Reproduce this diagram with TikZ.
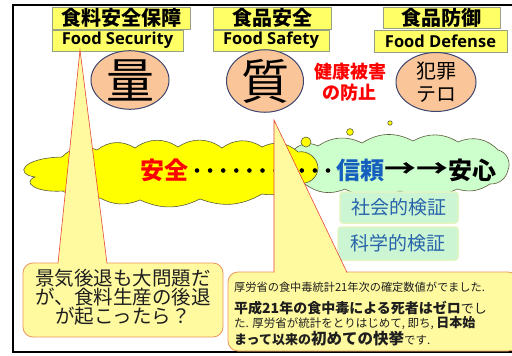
\documentclass[tikz,border=0pt]{standalone}
\usepackage{fontspec}
\setmainfont{Open Sans}
\newfontfamily\jp{Noto Sans CJK JP}
\usetikzlibrary{shapes.geometric}
\definecolor{hdrfill}{RGB}{255,255,102}
\definecolor{hdrline}{RGB}{150,160,130}
\definecolor{ovalfill}{RGB}{250,197,152}
\definecolor{ovalline}{RGB}{60,70,110}
\definecolor{cloudy}{RGB}{255,255,0}
\definecolor{cloudg}{RGB}{204,255,204}
\definecolor{cloudline}{RGB}{90,90,60}
\definecolor{gboxfill}{RGB}{204,245,212}
\definecolor{gboxline}{RGB}{225,245,195}
\definecolor{gtext}{RGB}{40,100,170}
\definecolor{shinblue}{RGB}{20,95,190}
\definecolor{callfill}{RGB}{255,250,160}
\definecolor{callline}{RGB}{235,150,90}
\definecolor{pedge}{RGB}{230,70,50}
\definecolor{dtext}{RGB}{30,30,30}
\begin{document}
\begin{tikzpicture}[x=1pt,y=-1pt,
  hdrbox/.style={draw=hdrline, fill=hdrfill, line width=0.8pt, inner sep=0pt},
  jphdr/.style={font=\jp\bfseries\fontsize{20}{22}\selectfont},
  enhdr/.style={font=\bfseries\fontsize{16.5}{18}\selectfont},
  oval/.style={ellipse, draw=ovalline, fill=ovalfill, line width=1pt, inner sep=0pt},
  redtxt/.style={font=\jp\bfseries\fontsize{18}{20}\selectfont, text=red},
  bigtxt/.style={font=\jp\bfseries\fontsize{24}{26}\selectfont},
  ycloud/.style={fill=cloudy, draw=cloudline, line width=0.6pt},
  gcloud/.style={fill=cloudg, draw=cloudline, line width=0.6pt},
  bubble/.style={fill=cloudy, draw=cloudline, line width=0.6pt},
  gbox/.style={fill=gboxfill, draw=gboxline, line width=1.5pt, rounded corners=3pt, inner sep=0pt, text=gtext, font=\jp\fontsize{19}{21}\selectfont},
  callbox/.style={fill=callfill, draw=callline, line width=0.8pt, rounded corners=10pt, inner sep=0pt},
  ptr/.style={draw=pedge, line width=0.6pt},
  rtxt/.style={anchor=west, inner sep=0pt, text=dtext}
]
\useasboundingbox (0,0) rectangle (512,356);
\fill[white] (0,0) rectangle (512,356);
% frame
\draw[line width=2.5pt] (512,5) -- (13,5) -- (13,352) -- (512,352);

% headers
\node[hdrbox, jphdr, minimum width=138, minimum height=22] (h1) at (121,18) {食料安全保障};
\node[hdrbox, enhdr, minimum width=131, minimum height=21] (e1) at (117.5,40.5) {Food Security};
\node[hdrbox, jphdr, minimum width=118, minimum height=22] (h2) at (272,18) {食品安全};
\node[hdrbox, enhdr, minimum width=116, minimum height=21] (e2) at (271,40.5) {Food Safety};
\node[hdrbox, jphdr, minimum width=117, minimum height=21] (h3) at (441.5,17.5) {食品防御};
\node[hdrbox, enhdr, minimum width=133, minimum height=22] (e3) at (440.5,41) {Food Defense};

% ovals
\node[oval, minimum width=78, minimum height=56, font=\jp\fontsize{48}{50}\selectfont] (q1) at (130,80) {量};
\node[oval, minimum width=77, minimum height=58, font=\jp\fontsize{48}{50}\selectfont] (q2) at (265,81) {質};
\node[oval, minimum width=80, minimum height=59] (q3) at (436,82) {};
\node[font=\jp\fontsize{20}{22}\selectfont] (q3a) at (436,71) {犯罪};
\node[font=\jp\fontsize{20}{22}\selectfont] (q3b) at (436,95) {テロ};
\node[redtxt] (red1) at (350,72) {健康被害};
\node[redtxt] (red2) at (349,93) {の防止};

% clouds
\path[gcloud] (292,152) to[bend left=40] (318,146) to[bend left=30] (362,143)
  to[bend left=30] (413,141) to[bend left=30] (458,142) to[bend left=35] (498,150)
  to[bend left=50] (508,170) to[bend left=40] (490,184) to[bend left=25] (457,189)
  to[bend left=25] (400,191) to[bend left=25] (345,189) to[bend left=30] (305,184)
  to[bend left=40] (292,168) to[bend left=40] (292,152) -- cycle;
\path[ycloud] (35,177) .. controls (14,174) and (22,158) .. (62,157)
  to[bend left=35] (97,150) to[bend left=35] (135,148) to[bend left=35] (178,147)
  to[bend left=35] (222,148) to[bend left=35] (262,147) to[bend left=35] (298,152)
  to[bend left=50] (318,168) to[bend left=50] (300,183) to[bend left=25] (262,194)
  to[bend left=25] (200,199) to[bend left=25] (140,200) to[bend left=25] (100,198)
  to[bend left=25] (63,191) .. controls (35,193) and (22,182) .. (35,177) -- cycle;
\draw[bubble] (306,142) circle[radius=5];
\draw[bubble] (350,132) circle[radius=3.4];
\draw[bubble] (390,123) circle[radius=2.2];

% main line
\node[bigtxt, text=red] (anzen) at (164,170) {安全};
\foreach \i in {0,...,10} \fill (197+13.1*\i,170.5) circle[radius=2.3];
\node[bigtxt, text=shinblue] (shinrai) at (360,170) {信頼};
\node[bigtxt] (arr) at (416,170) {\scalebox{1.33}[1]{→→}};
\node[bigtxt] (anshin) at (472,170) {安心};

% green boxes
\node[gbox, minimum width=118, minimum height=31] (g1) at (399,207.5) {社会的検証};
\node[gbox, minimum width=120, minimum height=33] (g2) at (398,243.5) {科学的検証};

% left callout
\coordinate (tipL) at (80,50);
\node[callbox, minimum width=200, minimum height=74] (cbL) at (123,300) {};
\fill[callfill] (58,264.2) -- (tipL) -- (107,264.2) -- cycle;
\draw[ptr] (58,263.4) -- (tipL) -- (107,263.4);
\node[align=center, text=dtext, inner sep=0pt, font=\jp\fontsize{19.5}{19}\selectfont] (tL) at (123,297) {景気後退も大問題だ\\が、食料生産の後退\\が起こったら？};

% right callout
\coordinate (tipR) at (274,120);
\node[callbox, minimum width=290, minimum height=79] (cbR) at (373,311.5) {};
\fill[callfill] (274,273.2) -- (tipR) -- (347,273.2) -- cycle;
\draw[ptr] (274,272.4) -- (tipR) -- (347,272.4);
\node[rtxt, font=\jp\fontsize{11.2}{13}\selectfont] (r1) at (234,287) {厚労省の食中毒統計21年次の確定数値がでました.};
\node[rtxt, font=\jp\fontsize{12}{14}\selectfont] (r2) at (234,308) {{\bfseries\fontsize{14}{16}\selectfont 平成21年の食中毒による死者はゼロ}{\fontsize{13}{14}\selectfont でし}};
\node[rtxt, font=\jp\fontsize{11.5}{13}\selectfont] (r3) at (234,323.5) {た. 厚労省が統計をとりはじめて, 即ち, {\bfseries\fontsize{13}{14}\selectfont 日本始}};
\node[rtxt, font=\jp\fontsize{11.5}{13}\selectfont] (r4) at (234,339) {{\bfseries\fontsize{13}{14}\selectfont まって以来の}{\bfseries\fontsize{15.5}{17}\selectfont 初めての快挙}です.};
\end{tikzpicture}
\end{document}
